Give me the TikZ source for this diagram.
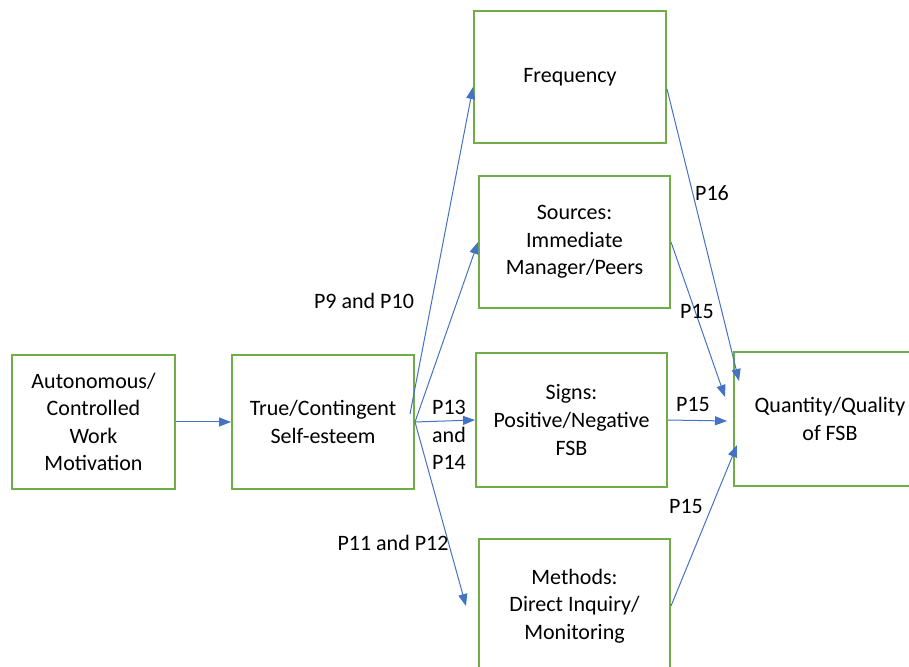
\documentclass[tikz,border=0pt]{standalone}
\usepackage{fontspec}
\setmainfont{Carlito}
\usetikzlibrary{arrows.meta}
\definecolor{boxgreen}{RGB}{112,173,71}
\definecolor{linkblue}{RGB}{68,114,196}

\begin{document}
\begin{tikzpicture}[x=0.5pt,y=0.5pt]
    \tikzstyle{every node}+=[inner sep=0pt,font=\fontsize{11}{13.8}\selectfont]
    \tikzstyle{box}=[draw=boxgreen,line width=1pt,align=center,minimum height=67pt]
    \tikzstyle{link}=[draw=linkblue,line width=0.5pt,-{Triangle[length=6pt,width=4.5pt]}]
    \useasboundingbox (0,0) rectangle (909,-667);
    \clip (0,0) rectangle (909,-667);
    % boxes
    \node [box,minimum width=81.5pt] (motiv) at (93.5,-422) {Autonomous/\\Controlled\\Work\\Motivation};
    \node [box,minimum width=91pt] (esteem) at (323,-422) {True/Contingent\\Self-esteem};
    \node [box,minimum width=96pt,minimum height=66pt] (freq) at (570,-77) {Frequency};
    \node [box,minimum width=95.5pt,minimum height=66pt] (src) at (574.5,-242) {Sources:\\Immediate\\Manager/Peers};
    \node [box,minimum width=95.5pt] (signs) at (571.5,-420) {Signs:\\Positive/Negative\\FSB};
    \node [box,minimum width=95.5pt] (meth) at (574.5,-606) {Methods:\\Direct Inquiry/\\Monitoring};
    \node [box,minimum width=96pt] (fsb) at (830,-419) {Quantity/Quality\\of FSB};
    % links
    \draw [link] (motiv) -- (esteem);
    \draw [link] ([shift={(-5,8)}]esteem.east) -- ([yshift=-5]freq.west);
    \draw [link] (esteem.east) -- (src.west);
    \draw [link] (esteem.east) -- (signs.west);
    \draw [link] (esteem.east) -- ([xshift=-6]meth.west);
    \draw [link] ([yshift=-6]freq.east) -- ([xshift=3,yshift=19]fsb.west);
    \draw [link] (src.east) -- ([xshift=-4,yshift=11]fsb.west);
    \draw [link] (signs.east) -- ([xshift=-3,yshift=-1]fsb.west);
    \draw [link] (meth.east) -- ([xshift=2,yshift=-13]fsb.west);
    % labels
    \node (l1) at (364,-301) {P9 and P10};
    \node (l2) at (393,-543) {P11 and P12};
    \node [align=center] (l3) at (449,-435) {P13\\and\\P14};
    \node (l4) at (712,-193) {P16};
    \node (l5) at (697,-311) {P15};
    \node (l6) at (693,-404) {P15};
    \node (l7) at (686,-506) {P15};
\end{tikzpicture}
\end{document}
